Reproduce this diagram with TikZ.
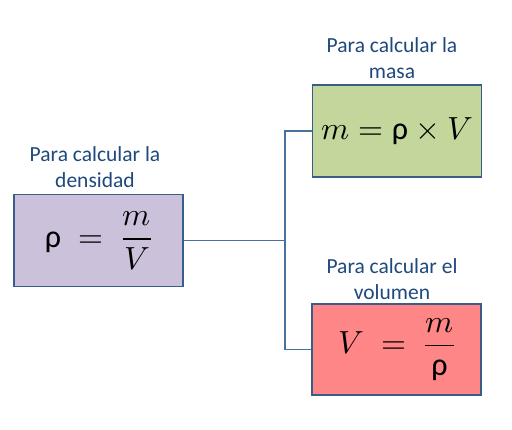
\documentclass[tikz,border=0pt]{standalone}
\usepackage{amsmath}
\usepackage{fontspec}
\usepackage{unicode-math}
\setmainfont{Carlito}
\setmathfont{Latin Modern Math}
\usetikzlibrary{positioning}

\definecolor{textblue}{RGB}{31,73,125}
\definecolor{edgeblue}{RGB}{56,93,138}
\definecolor{linkblue}{RGB}{74,112,160}
\definecolor{lila}{RGB}{204,193,218}
\definecolor{verde}{RGB}{195,214,155}
\definecolor{rosa}{RGB}{255,134,134}

\tikzset{
  formula/.style={draw=edgeblue, line width=1.6pt, rectangle, minimum width=169pt, minimum height=92pt, inner sep=0pt, font=\fontsize{32}{36}\selectfont},
  rotulo/.style={align=center, text=textblue, font=\fontsize{21.5}{26}\selectfont},
  enlace/.style={draw=linkblue, line width=1.1pt}
}

\begin{document}
\begin{tikzpicture}[x=1pt, y=-1pt]
    \useasboundingbox (0,0) rectangle (512,429);

    % Densidad
    \node[rotulo] (rotdens) at (95, 167) {Para calcular la\\densidad};
    \node[formula, fill=lila] (dens) at (98.5, 240.5) {$\text{ρ} \;=\; \dfrac{m}{V}$};

    % Masa
    \node[rotulo] (rotmasa) at (392, 58) {Para calcular la\\masa};
    \node[formula, fill=verde] (masa) at (397, 131) {$m = \text{ρ} \times V$};

    % Volumen
    \node[rotulo] (rotvol) at (392, 279) {Para calcular el\\volumen};
    \node[formula, fill=rosa, minimum height=91pt] (vol) at (396.5, 349.5) {$V \;=\; \dfrac{m}{\text{ρ}}$};

    % Conectores
    \coordinate (junta) at (285, 240.5);
    \draw[enlace] (dens.east) -- (junta);
    \draw[enlace] (junta) |- (masa.west);
    \draw[enlace] (junta) |- (vol.west);
\end{tikzpicture}
\end{document}
